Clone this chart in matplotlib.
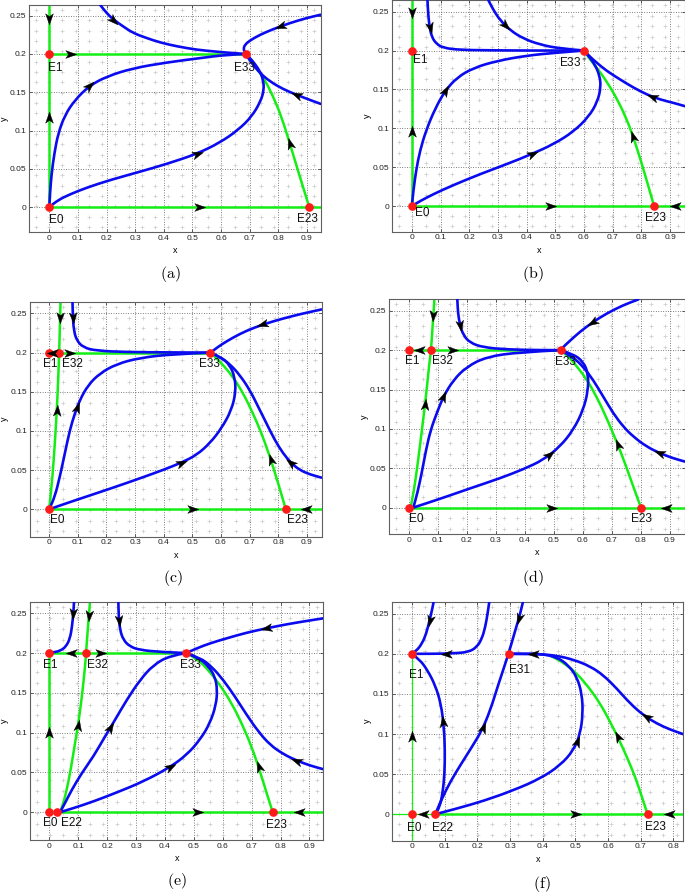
import numpy as np
import matplotlib
matplotlib.use('Agg')
import matplotlib.pyplot as plt
from matplotlib.path import Path
from matplotlib.patches import PathPatch
from matplotlib.markers import MarkerStyle
from matplotlib.transforms import Affine2D

plt.rcParams['font.family'] = ['Liberation Sans', 'DejaVu Sans']
plt.rcParams['mathtext.fontset'] = 'cm'

# ---------------- DATA ----------------
# ---- panel (a) ----
a_pts_x = [0, 0, 0.686, 0.908]
a_pts_y = [0, 0.2, 0.2, 0]
a_lbl = ['E0', 'E1', 'E33', 'E23']
a_gv_x, a_gv_y = [0, 0], [0, 0.27]
a_gh0_x, a_gh0_y = [0, 0.96], [0, 0]
a_gh2_x, a_gh2_y = [0, 0.686], [0.2, 0.2]
a_gc_x = [0.908, 0.875, 0.840, 0.811, 0.782, 0.753, 0.724, 0.701, 0.686]
a_gc_y = [0, 0.0397, 0.0833, 0.118, 0.1444, 0.166, 0.1815, 0.192, 0.2]
a_b1_x = [0.177, 0.2, 0.224, 0.258, 0.293, 0.34, 0.387, 0.445, 0.515, 0.584, 0.643, 0.686]
a_b1_y = [0.2644, 0.2535, 0.2448, 0.236, 0.2273, 0.2208, 0.215, 0.21, 0.2055, 0.203, 0.2011, 0.2]
a_b2_x = [0.948, 0.899, 0.84, 0.782, 0.736, 0.701, 0.683, 0.678, 0.684, 0.686]
a_b2_y = [0.2513, 0.247, 0.2404, 0.2325, 0.2251, 0.2177, 0.212, 0.2064, 0.2017, 0.2]
a_b3_x = [0.948, 0.91, 0.864, 0.817, 0.771, 0.736, 0.712, 0.695, 0.686]
a_b3_y = [0.1348, 0.14, 0.1466, 0.154, 0.164, 0.175, 0.1859, 0.1946, 0.2]
a_b4_x = [0, 0.031, 0.072, 0.13, 0.212, 0.317, 0.41, 0.515, 0.596, 0.66, 0.707, 0.738,
          0.75, 0.747, 0.736, 0.718, 0.698, 0.686]
a_b4_y = [0, 0.0092, 0.0166, 0.0253, 0.0353, 0.0462, 0.0563, 0.0694, 0.0842, 0.1008, 0.1182,
          0.1379, 0.1531, 0.1662, 0.1771, 0.1872, 0.1959, 0.2]
a_b5_x = [0, 0.0023, 0.008, 0.0175, 0.031, 0.0547, 0.0896, 0.14, 0.2, 0.293, 0.41, 0.526, 0.619, 0.686]
a_b5_y = [0, 0.0179, 0.044, 0.0702, 0.0964, 0.1204, 0.14, 0.1584, 0.1706, 0.1815, 0.1889, 0.1946, 0.199, 0.2]

# ---- panel (b) ----
b_pts_x = [0, 0, 0.6, 0.844]
b_pts_y = [0, 0.2, 0.2, 0]
b_lbl = ['E0', 'E1', 'E33$^*$', 'E23']
b_gv_x, b_gv_y = [0, 0], [0, 0.27]
b_gh0_x, b_gh0_y = [0, 0.96], [0, 0]
b_gc_x = [0.844, 0.825, 0.801, 0.772, 0.743, 0.708, 0.674, 0.642, 0.616, 0.6]
b_gc_y = [0, 0.0248, 0.0548, 0.089, 0.1169, 0.1426, 0.1631, 0.179, 0.191, 0.2]
b_b1_x = [0.0546, 0.057, 0.0616, 0.0697, 0.0848, 0.11, 0.168, 0.273, 0.4, 0.517, 0.6]
b_b1_y = [0.2646, 0.2474, 0.2303, 0.2175, 0.2089, 0.2033, 0.2008, 0.2003, 0.2, 0.2, 0.2]
b_b2_x = [0.267, 0.285, 0.308, 0.343, 0.389, 0.447, 0.517, 0.6]
b_b2_y = [0.2646, 0.2517, 0.2389, 0.226, 0.2153, 0.2076, 0.2025, 0.2]
b_b3_x = [0.952, 0.912, 0.865, 0.819, 0.772, 0.726, 0.679, 0.645, 0.619, 0.6]
b_b3_y = [0.1284, 0.1327, 0.137, 0.1434, 0.1524, 0.1627, 0.1738, 0.1841, 0.1926, 0.2]
b_b4_x = [0, 0.029, 0.0755, 0.145, 0.238, 0.331, 0.418, 0.494, 0.563, 0.616, 0.647, 0.659,
          0.654, 0.639, 0.619, 0.6]
b_b4_y = [0, 0.0064, 0.0154, 0.027, 0.0411, 0.0539, 0.0668, 0.0796, 0.0955, 0.1147, 0.134,
          0.1533, 0.1682, 0.1811, 0.1918, 0.2]
b_b5_x = [0, 0.0058, 0.0151, 0.029, 0.05, 0.0813, 0.116, 0.157, 0.215, 0.296, 0.4, 0.505, 0.6]
b_b5_y = [0, 0.0205, 0.0462, 0.0719, 0.0976, 0.1254, 0.1481, 0.1652, 0.1777, 0.1866, 0.1935, 0.1973, 0.2]

# ---- panel (c) ----
c_pts_x = [0, 0, 0.035, 0.5634, 0.8265]
c_pts_y = [0, 0.2, 0.2, 0.2, 0]
c_lbl = ['E0', 'E1', 'E32', 'E33', 'E23']
c_gv_x = [0, 0.0116, 0.0198, 0.0268, 0.0314, 0.035, 0.0373, 0.0396]
c_gv_y = [0, 0.0417, 0.0842, 0.1267, 0.165, 0.2, 0.233, 0.2649]
c_gh0_x, c_gh0_y = [0, 0.96], [0, 0]
c_gh2_x, c_gh2_y = [0, 0.5634], [0.2, 0.2]
c_gc_x = [0.8265, 0.8, 0.771, 0.742, 0.712, 0.678, 0.643, 0.608, 0.579, 0.5634]
c_gc_y = [0, 0.0332, 0.0672, 0.0969, 0.1224, 0.148, 0.1684, 0.1841, 0.1947, 0.2]
c_b1_x = [0.0815, 0.0827, 0.0861, 0.0955, 0.1187, 0.165, 0.27, 0.41, 0.5634]
c_b1_y = [0.2649, 0.2457, 0.2287, 0.216, 0.2066, 0.2024, 0.2007, 0.2003, 0.2]
c_b2_x = [0.951, 0.887, 0.817, 0.747, 0.689, 0.643, 0.602, 0.579, 0.5634]
c_b2_y = [0.2551, 0.25, 0.2436, 0.236, 0.2279, 0.2194, 0.2104, 0.2043, 0.2]
c_b3_x = [0.951, 0.91, 0.875, 0.846, 0.817, 0.788, 0.759, 0.73, 0.701, 0.666, 0.631, 0.596, 0.5634]
c_b3_y = [0.0404, 0.0446, 0.0502, 0.0587, 0.0714, 0.0884, 0.1097, 0.131, 0.1522, 0.1713, 0.1854, 0.1947, 0.2]
c_b4_x = [0, 0.0605, 0.13, 0.2235, 0.317, 0.398, 0.462, 0.515, 0.561, 0.602, 0.637, 0.652,
          0.648, 0.631, 0.602, 0.5634]
c_b4_y = [0, 0.0077, 0.0162, 0.0276, 0.0395, 0.0502, 0.0595, 0.0693, 0.0842, 0.1033, 0.1267,
          0.1501, 0.1692, 0.1841, 0.1939, 0.2]
c_b5_x = [0, 0.0198, 0.0373, 0.0547, 0.0722, 0.0896, 0.107, 0.136, 0.177, 0.235, 0.317, 0.433, 0.5634]
c_b5_y = [0, 0.0162, 0.0417, 0.0714, 0.1012, 0.1224, 0.1395, 0.1586, 0.1735, 0.1854, 0.1934, 0.1981, 0.2]

# ---- panel (d) ----
d_pts_x = [0, 0, 0.076, 0.523, 0.8]
d_pts_y = [0, 0.2, 0.2, 0.2, 0]
d_lbl = ['E0', 'E1', 'E32', 'E33', 'E23']
d_gv_x = [0.0057, 0.0172, 0.0287, 0.0402, 0.0517, 0.0632, 0.0701, 0.076, 0.0805, 0.0874]
d_gv_y = [0, 0.0224, 0.052, 0.0859, 0.1197, 0.1578, 0.1832, 0.2, 0.2255, 0.2635]
d_gh0_x, d_gh0_y = [0, 0.96], [0, 0]
d_gh2_x, d_gh2_y = [0, 0.523], [0.2, 0.2]
d_gc_x = [0.8, 0.7736, 0.745, 0.716, 0.682, 0.647, 0.613, 0.578, 0.549, 0.523]
d_gc_y = [0, 0.0266, 0.0563, 0.0838, 0.1134, 0.1409, 0.1629, 0.1798, 0.1925, 0.2]
d_b1_x = [0.1667, 0.169, 0.1759, 0.1874, 0.2103, 0.2563, 0.3368, 0.4517, 0.523]
d_b1_y = [0.2644, 0.2466, 0.2318, 0.2191, 0.2094, 0.2035, 0.2009, 0.2, 0.2]
d_b2_x = [0.7908, 0.739, 0.6816, 0.6356, 0.5897, 0.5552, 0.5322, 0.523]
d_b2_y = [0.2644, 0.2572, 0.2466, 0.236, 0.2234, 0.2119, 0.2042, 0.2]
d_b3_x = [0.9517, 0.9115, 0.8655, 0.8195, 0.7736, 0.739, 0.7046, 0.67, 0.6356, 0.601, 0.5667, 0.523]
d_b3_y = [0.0584, 0.0626, 0.069, 0.0774, 0.0901, 0.1028, 0.1197, 0.1409, 0.162, 0.1789, 0.1908, 0.2]
d_b4_x = [0.015, 0.061, 0.13, 0.222, 0.314, 0.394, 0.463, 0.5207, 0.5667, 0.601, 0.618, 0.618,
          0.601, 0.5667, 0.523]
d_b4_y = [0, 0.0055, 0.014, 0.0258, 0.0372, 0.0486, 0.0605, 0.0774, 0.0986, 0.1239, 0.1493,
          0.1705, 0.1853, 0.195, 0.2]
d_b5_x = [0.015, 0.0287, 0.0437, 0.0586, 0.0747, 0.0954, 0.1184, 0.1529, 0.199, 0.2678, 0.3828, 0.523]
d_b5_y = [0, 0.0182, 0.0436, 0.0732, 0.0986, 0.1197, 0.1409, 0.162, 0.1789, 0.1916, 0.1975, 0.2]

# ---- panel (e) ----
e_pts_x = [0, 0.0277, 0, 0.127, 0.473, 0.773]
e_pts_y = [0, 0, 0.2, 0.2, 0.2, 0]
e_lbl = ['E0', 'E22', 'E1', 'E32', 'E33', 'E23']
e_gv_x, e_gv_y = [0, 0], [0, 0.2]
e_gh2_x, e_gh2_y = [0, 0.473], [0.2, 0.2]
e_gh0_x, e_gh0_y = [0, 0.96], [0, 0]
e_gs_x = [0.037, 0.0484, 0.06, 0.0738, 0.0888, 0.1038, 0.1153, 0.1234, 0.127, 0.1326, 0.1407]
e_gs_y = [0, 0.0113, 0.028, 0.0532, 0.0867, 0.1202, 0.1537, 0.183, 0.2, 0.229, 0.2647]
e_gc_x = [0.773, 0.752, 0.729, 0.7, 0.6655, 0.6309, 0.5905, 0.55, 0.5098, 0.473]
e_gc_y = [0, 0.0239, 0.0511, 0.0825, 0.1118, 0.1369, 0.16, 0.1788, 0.1935, 0.2]
e_b1_x = [0.0854, 0.083, 0.0784, 0.0715, 0.0577, 0.0369, 0.0138, 0]
e_b1_y = [0.2647, 0.25, 0.2332, 0.2186, 0.2081, 0.2027, 0.201, 0.2]
e_b2_x = [0.2388, 0.24, 0.2445, 0.256, 0.2791, 0.3137, 0.383, 0.473]
e_b2_y = [0.2647, 0.2458, 0.2291, 0.2165, 0.2081, 0.2039, 0.2014, 0.2]
e_b3_x = [0.948, 0.8904, 0.8212, 0.752, 0.6828, 0.6136, 0.5559, 0.5098, 0.473]
e_b3_y = [0.2437, 0.2404, 0.2362, 0.2312, 0.2257, 0.2186, 0.2123, 0.206, 0.2]
e_b4_x = [0.948, 0.902, 0.8558, 0.8097, 0.7635, 0.7232, 0.6828, 0.6424, 0.602, 0.5617, 0.5213, 0.473]
e_b4_y = [0.054, 0.0586, 0.0649, 0.0729, 0.0846, 0.1013, 0.1223, 0.1453, 0.1662, 0.183, 0.1943, 0.2]
e_b5_x = [0.037, 0.083, 0.1523, 0.233, 0.3253, 0.4175, 0.4752, 0.5213, 0.5559, 0.5767, 0.5813,
          0.5733, 0.55, 0.5156, 0.473]
e_b5_y = [0, 0.005, 0.0134, 0.0247, 0.0385, 0.0565, 0.072, 0.0909, 0.1118, 0.1348, 0.1537,
          0.1704, 0.1838, 0.1943, 0.2]
e_b6_x = [0.037, 0.054, 0.0773, 0.1119, 0.1523, 0.1926, 0.2272, 0.2676, 0.3137, 0.3599, 0.4175, 0.473]
e_b6_y = [0, 0.0113, 0.028, 0.049, 0.0699, 0.0951, 0.116, 0.1411, 0.1662, 0.1851, 0.1968, 0.2]

# ---- panel (f) ----
f_pts_x = [0, 0.0693, 0, 0.2956, 0.7207]
f_pts_y = [0, 0, 0.2, 0.2, 0]
f_lbl = ['E0', 'E22', 'E1', 'E31', 'E23']
f_tv_x, f_tv_y = [0, 0], [-0.04, 0.2]
f_th_x, f_th_y = [-0.07, 0.0693], [0, 0]
f_gh0_x, f_gh0_y = [0.0693, 0.86], [0, 0]
f_gc_x = [0.7207, 0.7034, 0.683, 0.6575, 0.632, 0.6065, 0.576, 0.5403, 0.5046, 0.474, 0.4434, 0.425]
f_gc_y = [0, 0.0216, 0.0465, 0.0714, 0.0943, 0.115, 0.1379, 0.1586, 0.1753, 0.1856, 0.1939, 0.1972]
f_b1_x = [0.0663, 0.0612, 0.054, 0.0438, 0.0306, 0.0133, 0]
f_b1_y = [0.2645, 0.2542, 0.2417, 0.2251, 0.2126, 0.2035, 0.2]
f_b2_x = [0.2365, 0.2314, 0.2243, 0.214, 0.1988, 0.1733, 0.1274, 0.0663, 0]
f_b2_y = [0.2645, 0.25, 0.2334, 0.2189, 0.2085, 0.2022, 0.2006, 0.2, 0.2]
f_b3_x = [0.0714, 0.0846, 0.0938, 0.0999, 0.1009, 0.0979, 0.0887, 0.0714, 0.0479, 0.0234, 0]
f_b3_y = [0, 0.0091, 0.0257, 0.0507, 0.0797, 0.1088, 0.1379, 0.1607, 0.1794, 0.1931, 0.2]
f_b4_x = [0.0714, 0.0917, 0.1172, 0.1478, 0.1835, 0.2141, 0.2396, 0.265, 0.2956, 0.316, 0.3313, 0.3395]
f_b4_y = [0, 0.0195, 0.0403, 0.061, 0.0839, 0.1047, 0.1296, 0.1628, 0.2, 0.2292, 0.25, 0.2645]
f_b5_x = [0.0714, 0.1376, 0.2192, 0.3109, 0.3925, 0.4536, 0.4944, 0.5148, 0.5229, 0.5199, 0.5046,
          0.4791, 0.4434, 0.3925, 0.3415, 0.2956]
f_b5_y = [0, 0.0071, 0.0166, 0.0299, 0.0444, 0.061, 0.0797, 0.1005, 0.1254, 0.1503, 0.1711,
          0.1856, 0.196, 0.2, 0.2, 0.2]
f_b6_x = [0.8308, 0.79, 0.7492, 0.7085, 0.6677, 0.6269, 0.5861, 0.5454, 0.4944, 0.4434, 0.3925, 0.3415, 0.2956]
f_b6_y = [0.0997, 0.1055, 0.113, 0.1233, 0.1379, 0.1566, 0.1732, 0.1844, 0.1927, 0.1977, 0.1996, 0.2, 0.2]

x_ticks_09 = [0, 0.1, 0.2, 0.3, 0.4, 0.5, 0.6, 0.7, 0.8, 0.9]
x_ticks_08 = [0, 0.1, 0.2, 0.3, 0.4, 0.5, 0.6, 0.7, 0.8]
y_ticks = [0, 0.05, 0.1, 0.15, 0.2, 0.25]
y_tick_labels = ['0', '0.05', '0.1', '0.15', '0.2', '0.25']

# ---------------- STYLE / LAYOUT ----------------
W, H = 685, 894
BLUE = '#0b0bef'
GREEN = '#14ee14'
RED = '#ff1a1a'

ARROW = Path([(1, 0), (-0.75, 0.62), (-0.3, 0), (-0.75, -0.62), (1, 0)],
             [Path.MOVETO, Path.LINETO, Path.LINETO, Path.LINETO, Path.CLOSEPOLY])


def smooth_path(xs, ys):
    pts = np.column_stack([xs, ys]).astype(float)
    n = len(pts)
    if n <= 2:
        return Path(pts)
    verts = [pts[0], (pts[0] + pts[1]) / 2]
    codes = [Path.MOVETO, Path.LINETO]
    for i in range(1, n - 1):
        end = (pts[i] + pts[i + 1]) / 2 if i < n - 2 else pts[i + 1]
        verts += [pts[i], end]
        codes += [Path.CURVE3, Path.CURVE3]
    return Path(verts, codes)


def draw_curve(ax, xs, ys, color, lw, z=2):
    p = PathPatch(smooth_path(xs, ys), facecolor='none', edgecolor=color, lw=lw,
                  zorder=z, capstyle='round', joinstyle='round')
    ax.add_patch(p)


def place_arrow(ax, xs, ys, xn, yn, sign, size=9):
    T = ax.transData
    P = T.transform(np.column_stack([xs, ys]))
    q = T.transform((xn, yn))
    best = None
    for i in range(len(P) - 1):
        a, b = P[i], P[i + 1]
        d = b - a
        L2 = d @ d
        t = float(np.clip(((q - a) @ d) / L2, 0, 1)) if L2 > 0 else 0.0
        p = a + t * d
        dist = np.hypot(*(q - p))
        if best is None or dist < best[0]:
            best = (dist, p, d)
    _, p, d = best
    ang = np.degrees(np.arctan2(d[1], d[0])) + (0 if sign > 0 else 180)
    pd_ = T.inverted().transform(p)
    m = MarkerStyle(ARROW, transform=Affine2D().rotate_deg(ang))
    ax.plot([pd_[0]], [pd_[1]], linestyle='none', marker=m, ms=size, color='k',
            mec='k', mew=0.3, zorder=6)


fig = plt.figure(figsize=(W / 100, H / 100), dpi=100)


def make_axes(rect, xlim, ylim, xticks):
    l, t, r, b = rect
    ax = fig.add_axes([l / W, 1 - b / H, (r - l) / W, (b - t) / H])
    ax.set_xlim(*xlim)
    ax.set_ylim(*ylim)
    ax.set_xticks(xticks)
    ax.set_xticklabels(['0'] + [f'{v:g}' for v in xticks[1:]])
    ax.set_yticks(y_ticks)
    ax.set_yticklabels(y_tick_labels)
    ax.tick_params(direction='in', length=2.5, width=0.5, labelsize=6, pad=2,
                   colors='#222222', top=True, right=True)
    for s in ax.spines.values():
        s.set_color('#606060')
        s.set_linewidth(0.8)
    ax.grid(True, linestyle=(0, (1, 2.2)), color='#333333', lw=0.55)
    ax.set_axisbelow(True)
    ax.set_xlabel('x', fontsize=6.5, labelpad=3)
    ax.set_ylabel('y', fontsize=6.5, labelpad=1)
    # faint direction-field glyphs (background texture)
    nx, ny = 22, 22
    gx = xlim[0] + (np.arange(nx) + 0.5) * (xlim[1] - xlim[0]) / nx
    gy = ylim[0] + (np.arange(ny) + 0.5) * (ylim[1] - ylim[0]) / ny
    GX, GY = np.meshgrid(gx, gy)
    ax.plot(GX.ravel(), GY.ravel(), linestyle='none', marker='+', ms=2.8, mew=0.5,
            color='#cccccc', zorder=1)
    return ax


panels = [
    dict(rect=(29.3, 5, 320.7, 232.3), xlim=(-0.07, 0.948), ylim=(-0.033, 0.264), xt=x_ticks_09,
         cap='(a)', cap_xy=(170, 274),
         green=[(a_gv_x, a_gv_y), (a_gh0_x, a_gh0_y), (a_gh2_x, a_gh2_y), (a_gc_x, a_gc_y)],
         thin=[],
         blue=[(a_b1_x, a_b1_y), (a_b2_x, a_b2_y), (a_b3_x, a_b3_y), (a_b4_x, a_b4_y), (a_b5_x, a_b5_y)],
         arrows=[((a_gv_x, a_gv_y), 0, 0.247, -1), ((a_gv_x, a_gv_y), 0, 0.116, 1),
                 ((a_gh2_x, a_gh2_y), 0.072, 0.2, 1), ((a_gh0_x, a_gh0_y), 0.524, 0, 1),
                 ((a_gc_x, a_gc_y), 0.84, 0.083, 1), ((a_b1_x, a_b1_y), 0.224, 0.245, 1),
                 ((a_b2_x, a_b2_y), 0.81, 0.234, 1), ((a_b3_x, a_b3_y), 0.864, 0.147, 1),
                 ((a_b4_x, a_b4_y), 0.515, 0.069, 1), ((a_b5_x, a_b5_y), 0.14, 0.158, 1)],
         pts=(a_pts_x, a_pts_y), lbl=a_lbl,
         lbl_xy=[(0.023, -0.017), (0.02, 0.1815), (0.681, 0.1815), (0.901, -0.0157)]),
    dict(rect=(392.3, 0, 685, 231.7), xlim=(-0.068, 0.952), ylim=(-0.033, 0.265), xt=x_ticks_09,
         cap='(b)', cap_xy=(533, 274),
         green=[(b_gv_x, b_gv_y), (b_gh0_x, b_gh0_y), (b_gc_x, b_gc_y)],
         thin=[],
         blue=[(b_b1_x, b_b1_y), (b_b2_x, b_b2_y), (b_b3_x, b_b3_y), (b_b4_x, b_b4_y), (b_b5_x, b_b5_y)],
         arrows=[((b_gv_x, b_gv_y), 0, 0.25, -1), ((b_gv_x, b_gv_y), 0, 0.095, 1),
                 ((b_gh0_x, b_gh0_y), 0.48, 0, 1), ((b_gh0_x, b_gh0_y), 0.92, 0, -1),
                 ((b_gc_x, b_gc_y), 0.772, 0.089, 1), ((b_b1_x, b_b1_y), 0.062, 0.23, 1),
                 ((b_b2_x, b_b2_y), 0.325, 0.232, 1), ((b_b3_x, b_b3_y), 0.842, 0.141, 1),
                 ((b_b4_x, b_b4_y), 0.418, 0.067, 1), ((b_b5_x, b_b5_y), 0.116, 0.148, 1)],
         pts=(b_pts_x, b_pts_y), lbl=b_lbl,
         lbl_xy=[(0.035, -0.0094), (0.029, 0.1875), (0.563, 0.184), (0.848, -0.0158)]),
    dict(rect=(30, 301.7, 321.7, 536.7), xlim=(-0.067, 0.952), ylim=(-0.035, 0.265), xt=x_ticks_09,
         cap='(c)', cap_xy=(173, 578),
         green=[(c_gv_x, c_gv_y), (c_gh0_x, c_gh0_y), (c_gh2_x, c_gh2_y), (c_gc_x, c_gc_y)],
         thin=[],
         blue=[(c_b1_x, c_b1_y), (c_b2_x, c_b2_y), (c_b3_x, c_b3_y), (c_b4_x, c_b4_y), (c_b5_x, c_b5_y)],
         arrows=[((c_gv_x, c_gv_y), 0.0396, 0.245, -1), ((c_gv_x, c_gv_y), 0.026, 0.125, 1),
                 ((c_gh2_x, c_gh2_y), 0.015, 0.2, -1), ((c_gh2_x, c_gh2_y), 0.07, 0.2, 1),
                 ((c_gh0_x, c_gh0_y), 0.5, 0, 1), ((c_gh0_x, c_gh0_y), 0.9, 0, -1),
                 ((c_gc_x, c_gc_y), 0.776, 0.063, 1), ((c_b1_x, c_b1_y), 0.083, 0.245, 1),
                 ((c_b2_x, c_b2_y), 0.747, 0.236, 1), ((c_b3_x, c_b3_y), 0.846, 0.0587, 1),
                 ((c_b4_x, c_b4_y), 0.462, 0.0595, 1), ((c_b5_x, c_b5_y), 0.0955, 0.13, 1)],
         pts=(c_pts_x, c_pts_y), lbl=c_lbl,
         lbl_xy=[(0.028, -0.0136), (0.002, 0.186), (0.08, 0.186), (0.559, 0.185), (0.866, -0.0136)]),
    dict(rect=(389.3, 299, 685, 534.3), xlim=(-0.068, 0.952), ylim=(-0.034, 0.265), xt=x_ticks_09,
         cap='(d)', cap_xy=(533, 578),
         green=[(d_gv_x, d_gv_y), (d_gh0_x, d_gh0_y), (d_gh2_x, d_gh2_y), (d_gc_x, d_gc_y)],
         thin=[],
         blue=[(d_b1_x, d_b1_y), (d_b2_x, d_b2_y), (d_b3_x, d_b3_y), (d_b4_x, d_b4_y), (d_b5_x, d_b5_y)],
         arrows=[((d_gv_x, d_gv_y), 0.083, 0.245, -1), ((d_gv_x, d_gv_y), 0.063, 0.13, 1),
                 ((d_gh2_x, d_gh2_y), 0.038, 0.2, -1), ((d_gh2_x, d_gh2_y), 0.147, 0.2, 1),
                 ((d_gh0_x, d_gh0_y), 0.49, 0, 1), ((d_gh0_x, d_gh0_y), 0.89, 0, -1),
                 ((d_gc_x, d_gc_y), 0.733, 0.0816, 1), ((d_b1_x, d_b1_y), 0.175, 0.232, 1),
                 ((d_b2_x, d_b2_y), 0.6356, 0.236, 1), ((d_b3_x, d_b3_y), 0.8655, 0.069, 1),
                 ((d_b4_x, d_b4_y), 0.486, 0.0647, 1), ((d_b5_x, d_b5_y), 0.13, 0.1387, 1)],
         pts=(d_pts_x, d_pts_y), lbl=d_lbl,
         lbl_xy=[(0.026, -0.0148), (0.0115, 0.1866), (0.116, 0.1866), (0.541, 0.185), (0.802, -0.0148)]),
    dict(rect=(30, 601.7, 323.3, 840), xlim=(-0.067, 0.948), ylim=(-0.035, 0.2646), xt=x_ticks_09,
         cap='(e)', cap_xy=(177, 881),
         green=[(e_gv_x, e_gv_y), (e_gh2_x, e_gh2_y), (e_gh0_x, e_gh0_y), (e_gs_x, e_gs_y), (e_gc_x, e_gc_y)],
         thin=[],
         blue=[(e_b1_x, e_b1_y), (e_b2_x, e_b2_y), (e_b3_x, e_b3_y), (e_b4_x, e_b4_y),
               (e_b5_x, e_b5_y), (e_b6_x, e_b6_y)],
         arrows=[((e_gv_x, e_gv_y), 0, 0.1, 1), ((e_gs_x, e_gs_y), 0.1, 0.108, 1),
                 ((e_gs_x, e_gs_y), 0.138, 0.248, -1), ((e_gh2_x, e_gh2_y), 0.077, 0.2, -1),
                 ((e_gh2_x, e_gh2_y), 0.175, 0.2, 1), ((e_gh0_x, e_gh0_y), 0.51, 0, 1),
                 ((e_gh0_x, e_gh0_y), 0.867, 0, -1), ((e_gc_x, e_gc_y), 0.729, 0.0574, 1),
                 ((e_b1_x, e_b1_y), 0.083, 0.25, 1), ((e_b2_x, e_b2_y), 0.24, 0.242, 1),
                 ((e_b3_x, e_b3_y), 0.752, 0.2312, 1), ((e_b4_x, e_b4_y), 0.8558, 0.0649, 1),
                 ((e_b5_x, e_b5_y), 0.4175, 0.0565, 1), ((e_b6_x, e_b6_y), 0.204, 0.1076, 1)],
         pts=(e_pts_x, e_pts_y), lbl=e_lbl,
         lbl_xy=[(0.002, -0.013), (0.075, -0.013), (0.002, 0.185), (0.166, 0.185), (0.487, 0.185),
                 (0.787, -0.016)]),
    dict(rect=(392.3, 601.7, 683.3, 840.7), xlim=(-0.06, 0.83), ylim=(-0.033, 0.265), xt=x_ticks_08,
         cap='(f)', cap_xy=(542, 884),
         green=[(f_gh0_x, f_gh0_y), (f_gc_x, f_gc_y)],
         thin=[(f_tv_x, f_tv_y), (f_th_x, f_th_y)],
         blue=[(f_b1_x, f_b1_y), (f_b2_x, f_b2_y), (f_b3_x, f_b3_y), (f_b4_x, f_b4_y),
               (f_b5_x, f_b5_y), (f_b6_x, f_b6_y)],
         arrows=[((f_tv_x, f_tv_y), 0, 0.096, 1), ((f_th_x, f_th_y), 0.036, 0, -1),
                 ((f_gh0_x, f_gh0_y), 0.5, 0, 1), ((f_gh0_x, f_gh0_y), 0.79, 0, -1),
                 ((f_gc_x, f_gc_y), 0.632, 0.0963, 1), ((f_b1_x, f_b1_y), 0.054, 0.2417, 1),
                 ((f_b2_x, f_b2_y), 0.107, 0.2, 1), ((f_b3_x, f_b3_y), 0.0979, 0.115, 1),
                 ((f_b4_x, f_b4_y), 0.219, 0.107, 1), ((f_b4_x, f_b4_y), 0.327, 0.245, -1),
                 ((f_b5_x, f_b5_y), 0.5046, 0.0901, 1), ((f_b5_x, f_b5_y), 0.372, 0.2, 1),
                 ((f_b6_x, f_b6_y), 0.7187, 0.1213, 1)],
         pts=(f_pts_x, f_pts_y), lbl=f_lbl,
         lbl_xy=[(0.007, -0.0166), (0.094, -0.0166), (0.012, 0.173), (0.329, 0.18), (0.744, -0.0158)]),
]

for P in panels:
    ax = make_axes(P['rect'], P['xlim'], P['ylim'], P['xt'])
    for xs, ys in P['thin']:
        ax.plot(xs, ys, color=GREEN, lw=0.9, zorder=2)
    for xs, ys in P['green']:
        draw_curve(ax, xs, ys, GREEN, 1.8, z=2)
    for xs, ys in P['blue']:
        draw_curve(ax, xs, ys, BLUE, 1.9, z=3)
    for (xs, ys), xn, yn, sg in P['arrows']:
        place_arrow(ax, xs, ys, xn, yn, sg)
    px, py = P['pts']
    ax.plot(px, py, linestyle='none', marker='o', ms=5.2, color=RED, mec=RED, zorder=4)
    for s, (tx, ty) in zip(P['lbl'], P['lbl_xy']):
        ax.text(tx, ty, s, ha='center', va='center', fontsize=8.5, color='#111111', zorder=7)
    fig.text(P['cap_xy'][0] / W, 1 - P['cap_xy'][1] / H, '$\\mathrm{' + P['cap'] + '}$',
             ha='center', va='center', fontsize=11.5)

fig.savefig('out.png', dpi=100)
